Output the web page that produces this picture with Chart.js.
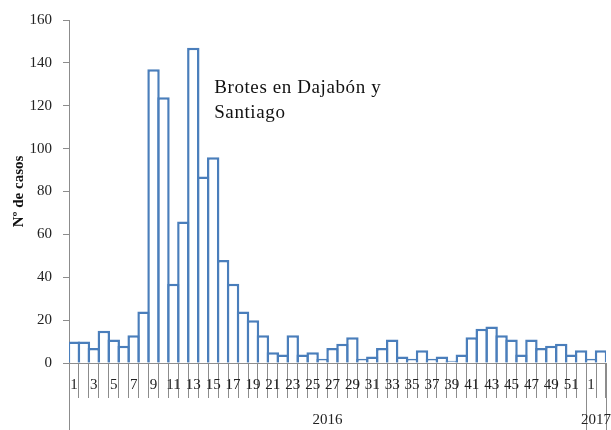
<!DOCTYPE html>
<html>
<head>
<meta charset="utf-8">
<script src="https://cdn.jsdelivr.net/npm/chart.js@4"></script>
<style>
  html, body { margin: 0; padding: 0; background: #fff; }
  #wrap { width: 611px; height: 430px; }
</style>
</head>
<body>
<div id="wrap"><canvas id="chart" width="611" height="430"></canvas></div>
<script>
'use strict';

// semanas epidemiológicas: 52 de 2016 y 2 de 2017
const weeks2016 = [];
for (let w = 1; w <= 52; w++) weeks2016.push(w);
const weeks2017 = [1, 2];
const years     = ['2016', '2017'];

const casos = [
    10, 10, 7, 15, 11, 8, 13, 24, 137, 124,
    37, 66, 147, 87, 96, 48, 37, 24, 20, 13,
    5, 4, 13, 4, 5, 2, 7, 9, 12, 2,
    3, 7, 11, 3, 2, 6, 2, 3, 1, 4,
    12, 16, 17, 13, 11, 4, 11, 7, 8, 9,
    4, 6, 2, 6
];

const yTicks     = [0, 20, 40, 60, 80, 100, 120, 140, 160];
const noteLines  = ['Brotes en Dajabón y', 'Santiago'];
const labels     = weeks2016.map(String).concat(weeks2017.map(String));

const serif    = '"Liberation Serif", "DejaVu Serif", serif';
const axisGray = '#8c8c8c';
const barBlue  = '#4a7ebb';

// líneas de agrupación por año y texto del brote
const yearGroups = {
    id: 'yearGroups',
    afterDraw(chart) {
        const ctx = chart.ctx;
        const x   = chart.scales.x;
        const y   = chart.scales.y;
        const n   = labels.length;
        const half = (x.getPixelForValue(1) - x.getPixelForValue(0)) / 2;
        const left  = x.getPixelForValue(0) - half;
        const split = x.getPixelForValue(weeks2016.length - 1) + half;
        const right = x.getPixelForValue(n - 1) + half;
        const base  = chart.chartArea.bottom;

        ctx.save();
        ctx.strokeStyle = axisGray;
        ctx.lineWidth = 1;
        [left, split, right].forEach(px => {
            ctx.beginPath();
            ctx.moveTo(Math.round(px) + 0.5, base);
            ctx.lineTo(Math.round(px) + 0.5, chart.height);
            ctx.stroke();
        });

        ctx.fillStyle = '#222';
        ctx.font = '15px ' + serif;
        ctx.textAlign = 'center';
        ctx.textBaseline = 'middle';
        ctx.fillText(years[0], (left + split) / 2, 420);
        ctx.fillText(years[1], (split + right) / 2, 420);

        // anotación
        ctx.fillStyle = '#111';
        ctx.font = '19px ' + serif;
        ctx.letterSpacing = '0.6px';
        ctx.textAlign = 'left';
        const nx = x.getPixelForValue(14) + 1;
        ctx.fillText(noteLines[0], nx, y.getPixelForValue(128.3));
        ctx.fillText(noteLines[1], nx, y.getPixelForValue(116.6));
        ctx.restore();
    }
};

new Chart(document.getElementById('chart'), {
    type: 'bar',
    data: {
        labels: labels,
        datasets: [{
            data: casos,
            backgroundColor: '#ffffff',
            borderColor: barBlue,
            borderWidth: 2.5,
            categoryPercentage: 1.0,
            barPercentage: 1.25
        }]
    },
    options: {
        responsive: false,
        animation: false,
        layout: { padding: { top: 20, right: 5, left: 0, bottom: 0 } },
        plugins: {
            legend: { display: false },
            tooltip: { enabled: false }
        },
        scales: {
            x: {
                offset: true,
                grid: {
                    offset: true,
                    drawOnChartArea: false,
                    color: axisGray,
                    tickLength: 35
                },
                border: { color: axisGray },
                ticks: {
                    autoSkip: false,
                    maxRotation: 0,
                    minRotation: 0,
                    padding: -22,
                    color: '#222',
                    font: { family: serif, size: 15 },
                    callback: function(value, index) {
                        return index % 2 === 0 ? labels[index] : '';
                    }
                },
                afterFit(scale) { scale.height = 67; }
            },
            y: {
                min: 0,
                max: 160,
                afterBuildTicks(scale) {
                    scale.ticks = yTicks.map(v => ({ value: v }));
                },
                grid: {
                    drawOnChartArea: false,
                    color: axisGray,
                    tickLength: 6
                },
                border: { color: axisGray },
                ticks: {
                    padding: 11,
                    color: '#222',
                    font: { family: serif, size: 15 }
                },
                title: {
                    display: true,
                    text: 'Nº de casos',
                    color: '#111',
                    font: { family: serif, size: 15, weight: 'bold' },
                    padding: { top: 10, bottom: 0 }
                },
                afterFit(scale) { scale.width = 69; }
            }
        }
    },
    plugins: [yearGroups]
});
</script>
</body>
</html>
